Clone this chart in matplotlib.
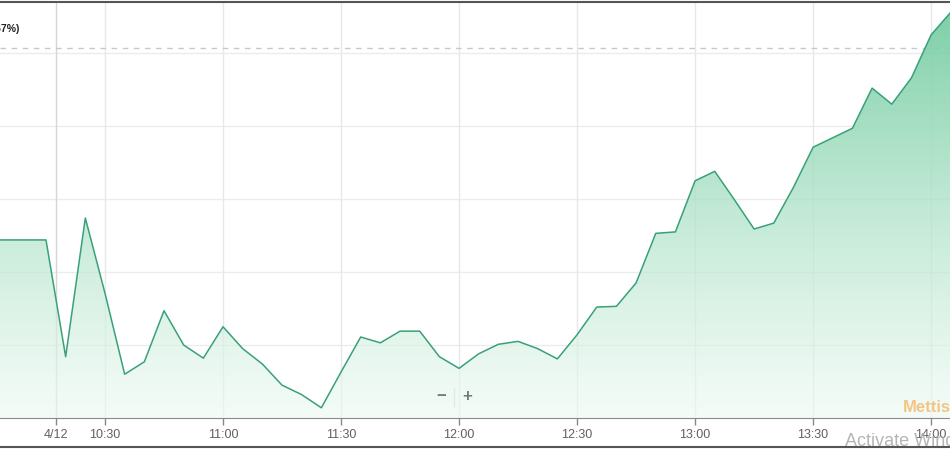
import numpy as np
import matplotlib
matplotlib.use("Agg")
import matplotlib.pyplot as plt
from matplotlib.colors import LinearSegmentedColormap
from matplotlib.lines import Line2D

# 5 minute prices (offset from base)
times = ["10:00", "10:05", "10:10", "10:15", "10:20", "10:25", "10:30", "10:35", "10:40", "10:45",
         "10:50", "10:55", "11:00", "11:05", "11:10", "11:15", "11:20", "11:25", "11:30", "11:35",
         "11:40", "11:45", "11:50", "11:55", "12:00", "12:05", "12:10", "12:15", "12:20", "12:25",
         "12:30", "12:35", "12:40", "12:45", "12:50", "12:55", "13:00", "13:05", "13:10", "13:15",
         "13:20", "13:25", "13:30", "13:35", "13:40", "13:45", "13:50", "13:55", "14:00", "14:05"]
prices = [24.4, 24.4, 24.4, 24.4, 8.4, 27.4, 17.1, 6.0, 7.7, 14.7,
          10.0, 8.2, 12.5, 9.5, 7.4, 4.5, 3.2, 1.4, 6.3, 11.1,
          10.3, 11.9, 11.9, 8.4, 6.8, 8.8, 10.1, 10.5, 9.5, 8.1,
          11.4, 15.2, 15.3, 18.5, 25.3, 25.5, 32.5, 33.8, 29.9, 25.9,
          26.7, 31.6, 37.1, 38.4, 39.7, 45.2, 43.0, 46.6, 52.5, 55.6]
ref_price = 50.7
change_label = "(+0.67%)"

tick_labels = ["4/12", "10:30", "11:00", "11:30", "12:00", "12:30", "13:00", "13:30", "14:00"]
tick_times = ["10:17:30", "10:30", "11:00", "11:30", "12:00", "12:30", "13:00", "13:30", "14:00"]


def to_min(t):
    parts = [int(p) for p in t.split(":")]
    m = (parts[0] - 10) * 60 + parts[1]
    if len(parts) > 2:
        m += parts[2] / 60
    return m


x = np.array([to_min(t) for t in times])
y = np.array(prices)
tick_x = [to_min(t) for t in tick_times]

plt.rcParams['font.family'] = ['Liberation Sans', 'DejaVu Sans']

fig = plt.figure(figsize=(9.5, 4.5), dpi=100)
ax = fig.add_axes([0, 32 / 450, 1, 416 / 450])

x0, x1 = 3.31, 244.8
y0, y1 = 0, 57.0
ax.set_xlim(x0, x1)
ax.set_ylim(y0, y1)

# grid
for g in [10, 20, 30, 40, 50]:
    ax.axhline(g, color="#ececec", lw=1, zorder=0)
for i, tx in enumerate(tick_x):
    ax.axvline(tx, color="#d6d6d6" if i == 0 else "#e8e8e8", lw=1, zorder=0)

ax.axhline(ref_price, color="#c8c8c8", lw=1, ls=(0, (4, 4)), zorder=1)

# gradient fill under the line
line_col = "#3aa07a"
cmap = LinearSegmentedColormap.from_list(
    "grad", [(0.93, 0.98, 0.95, 0.6), (0.45, 0.80, 0.63, 0.95)])
poly = ax.fill_between(x, y, y0, color="none", lw=0)
grad = np.linspace(0, 1, 256).reshape(-1, 1)
im = ax.imshow(grad, cmap=cmap, aspect="auto", origin="lower",
               extent=[x0, x1, y0, y1], zorder=1)
im.set_clip_path(poly.get_paths()[0], transform=ax.transData)
ax.plot(x, y, color=line_col, lw=1.1, zorder=3)

ax.set_xticks(tick_x)
ax.set_xticklabels(tick_labels)
ax.set_yticks([])
ax.tick_params(axis="x", length=5, width=1, color="#888888", labelcolor="#606060",
               labelsize=9, pad=3)
for s in ["left", "right"]:
    ax.spines[s].set_visible(False)
ax.spines["bottom"].set_color("#8a8a8a")
ax.spines["top"].set_color("#555555")
ax.spines["top"].set_linewidth(1.5)

# frame line at the bottom of the widget
fig.add_artist(Line2D([0, 1], [3 / 450, 3 / 450], transform=fig.transFigure,
                      color="#555555", lw=1.5))

# change label, partly cut at the left edge as in the original widget
fig.text(20 / 950, 1 - 29 / 450, change_label, ha="right", va="center",
         fontsize=7.5, fontweight="bold", color="#222222")

# zoom buttons
fig.text(441 / 950, 1 - 397 / 450, "\u2212", ha="center", va="center",
         fontsize=12, fontweight="bold", color="#777777")
fig.text(467 / 950, 1 - 397 / 450, "+", ha="center", va="center",
         fontsize=12, fontweight="bold", color="#777777")
fig.add_artist(Line2D([454 / 950, 454 / 950], [1 - 406 / 450, 1 - 388 / 450],
                      transform=fig.transFigure, color="#e6e6e6", lw=1))

# watermarks
fig.text(903 / 950, 1 - 408 / 450, "Mettis", ha="left", va="center",
         fontsize=12, fontweight="bold", color="#f3b45e", alpha=0.75)
fig.text(845 / 950, 1 - 441 / 450, "Activate Windows", ha="left", va="center",
         fontsize=13, color="#a8a8a8", alpha=0.85)

fig.savefig("out.png", dpi=100)
